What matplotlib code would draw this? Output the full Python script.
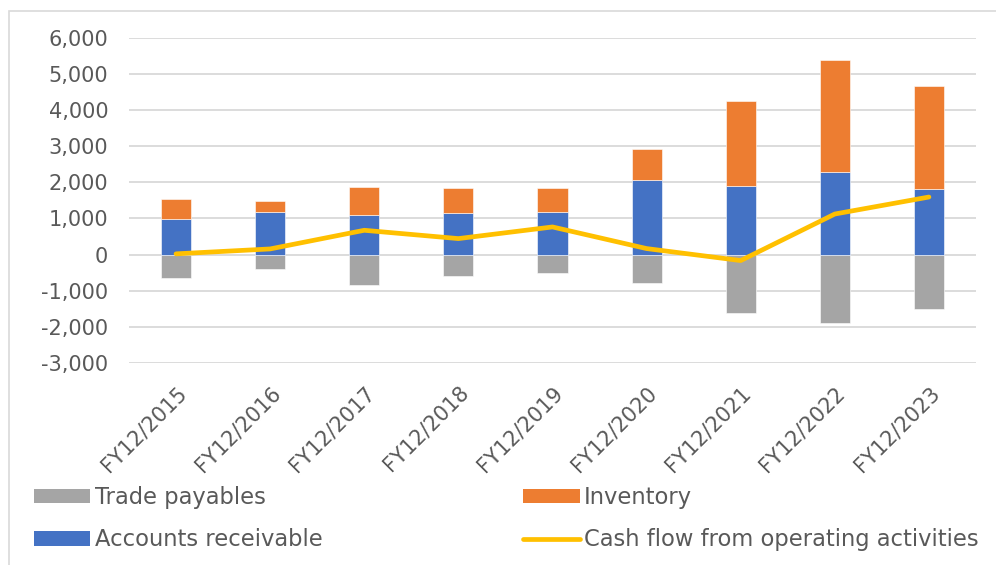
import matplotlib
matplotlib.use("Agg")
import matplotlib.pyplot as plt
from matplotlib.patches import Rectangle, Patch
from matplotlib.lines import Line2D
from matplotlib.ticker import FuncFormatter, MultipleLocator

categories = ["FY12/2015", "FY12/2016", "FY12/2017", "FY12/2018", "FY12/2019",
              "FY12/2020", "FY12/2021", "FY12/2022", "FY12/2023"]
accounts_receivable = [994, 1168, 1104, 1159, 1187, 2070, 1886, 2282, 1822]
inventory = [533, 304, 764, 681, 653, 837, 2364, 3100, 2842]
trade_payables = [-653, -386, -846, -598, -515, -800, -1610, -1895, -1518]
cash_flow = [20, 156, 672, 442, 764, 166, -166, 1122, 1592]

C_BLUE = "#4472C4"
C_ORANGE = "#ED7D31"
C_GRAY = "#A5A5A5"
C_YELLOW = "#FFC000"
C_TEXT = "#595959"
C_GRID = "#D9D9D9"

fig = plt.figure(figsize=(9.96, 5.65), dpi=100)
fig.patch.set_facecolor("white")
ax = fig.add_axes([0.1295, 0.3575, 0.8504, 0.5758])

x = list(range(len(categories)))
w = 0.32
ax.bar(x, trade_payables, width=w, color=C_GRAY, zorder=2, edgecolor="white", linewidth=0.4)
ax.bar(x, accounts_receivable, width=w, color=C_BLUE, zorder=2, edgecolor="white", linewidth=0.4)
ax.bar(x, inventory, width=w, bottom=accounts_receivable, color=C_ORANGE, zorder=2,
       edgecolor="white", linewidth=0.4)
ax.plot(x, cash_flow, color=C_YELLOW, linewidth=3.4, solid_capstyle="round",
        solid_joinstyle="round", zorder=3)

ax.set_xlim(-0.5, len(categories) - 0.5)
ax.set_ylim(-3000, 6000)
ax.yaxis.set_major_locator(MultipleLocator(1000))
ax.yaxis.set_major_formatter(FuncFormatter(lambda v, p: f"{int(v):,}"))
ax.grid(axis="y", color=C_GRID, linewidth=1.3, zorder=0)
ax.set_axisbelow(True)
for s in ax.spines.values():
    s.set_visible(False)
ax.tick_params(axis="both", length=0, colors=C_TEXT, labelsize=15)
ax.tick_params(axis="y", pad=15)
ax.set_xticks(x)
ax.set_xticklabels(categories, rotation=45, ha="right", va="top", rotation_mode="anchor")
ax.tick_params(axis="x", pad=14)

handles = [
    Patch(facecolor=C_GRAY, label="Trade payables"),
    Patch(facecolor=C_BLUE, label="Accounts receivable"),
    Patch(facecolor=C_ORANGE, label="Inventory"),
    Line2D([0], [0], color=C_YELLOW, linewidth=3.4, solid_capstyle="round",
           label="Cash flow from operating activities"),
]
leg = fig.legend(handles=handles, ncol=2, loc="upper left",
                 frameon=False, fontsize=16.3, handlelength=2.5, handleheight=0.6,
                 handletextpad=0.2, columnspacing=8.85, labelspacing=0.86,
                 borderaxespad=0, borderpad=0)
for t in leg.get_texts():
    t.set_color(C_TEXT)
leg.set_bbox_to_anchor((0.034, 1 - 486 / 565), transform=fig.transFigure)

fig.patches.append(Rectangle((9 / 996, -0.1), 1.2, 1 - 11 / 565 + 0.1,
                             transform=fig.transFigure, fill=False,
                             edgecolor="#D9D9D9", linewidth=1.2, zorder=0))

fig.savefig("out.png", dpi=100, facecolor="white")
